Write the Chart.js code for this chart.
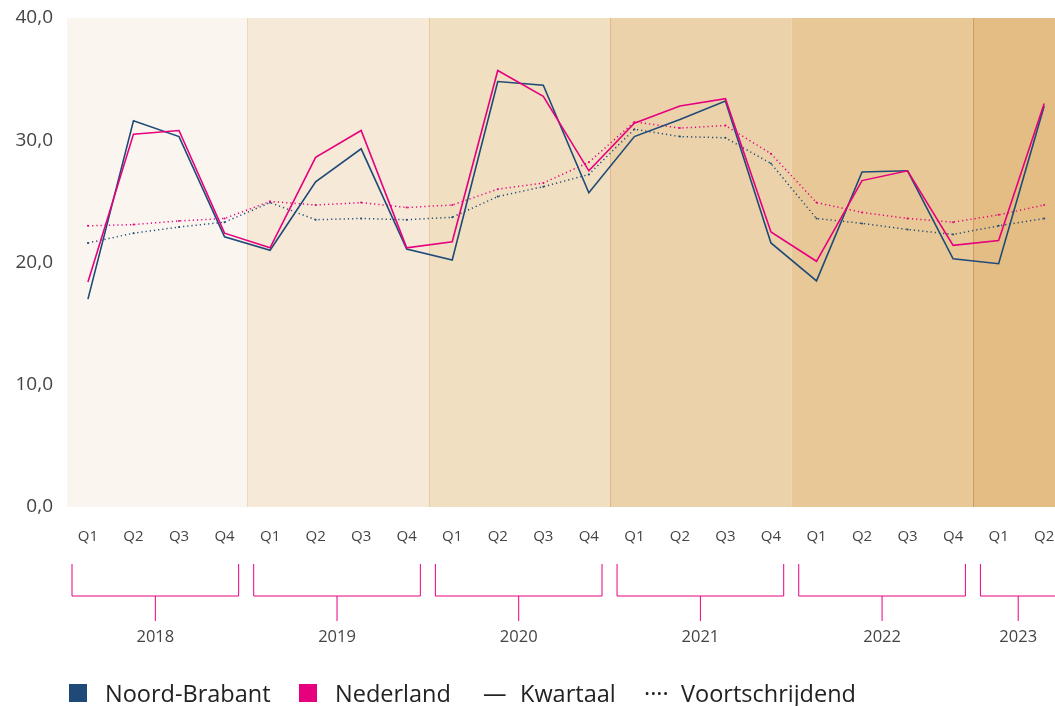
<!DOCTYPE html>
<html lang="nl">
<head>
<meta charset="utf-8">
<title>Noord-Brabant vs Nederland</title>
<script src="https://cdn.jsdelivr.net/npm/chart.js@4/dist/chart.umd.min.js"></script>
<style>
    html, body { margin: 0; padding: 0; background: #fff; overflow: hidden; }
    .wrap { position: relative; width: 1055px; height: 706px; }
    #chart { position: absolute; left: 0; top: 0; }
    .legend span { position: absolute; font-family: 'Open Sans', sans-serif; font-size: 23.5px; line-height: 23px; color: #222; white-space: nowrap; }
    .legend .sq { width: 18px; height: 18px; }
</style>
</head>
<body>
<div class="wrap">
    <canvas id="chart" width="1055" height="706"></canvas>
    <div class="legend">
        <span class="sq" style="left:69px; top:684px; background:#1f4a78;"></span>
        <span style="left:105px; top:682px;">Noord-Brabant</span>
        <span class="sq" style="left:299px; top:684px; background:#e6007e;"></span>
        <span style="left:335px; top:682px;">Nederland</span>
        <span style="left:483px; top:682px;">—</span>
        <span style="left:520px; top:682px;">Kwartaal</span>
        <span style="left:644px; top:682px;">····</span>
        <span style="left:681px; top:682px;">Voortschrijdend</span>
    </div>
</div>
<script>
// Labels
const quarters = ['Q1', 'Q2', 'Q3', 'Q4', 'Q1', 'Q2', 'Q3', 'Q4', 'Q1', 'Q2', 'Q3', 'Q4',
                  'Q1', 'Q2', 'Q3', 'Q4', 'Q1', 'Q2', 'Q3', 'Q4', 'Q1', 'Q2'];
const years = ['2018', '2019', '2020', '2021', '2022', '2023'];
const yTicks = [0, 10, 20, 30, 40];

// Kwartaalcijfers
const nbKwartaal = [17.0, 31.6, 30.3, 22.1, 21.0, 26.6, 29.3, 21.1, 20.2, 34.8, 34.5, 25.7,
                    30.3, 31.7, 33.2, 21.6, 18.5, 27.4, 27.5, 20.3, 19.9, 32.8];
const nlKwartaal = [18.4, 30.5, 30.8, 22.4, 21.2, 28.6, 30.8, 21.2, 21.7, 35.7, 33.6, 27.5,
                    31.4, 32.8, 33.4, 22.5, 20.1, 26.7, 27.5, 21.4, 21.8, 33.0];

// Voortschrijdend gemiddelde
const nbVoort = [21.6, 22.4, 22.9, 23.3, 24.9, 23.5, 23.6, 23.5, 23.7, 25.4, 26.2, 27.2,
                 30.9, 30.3, 30.2, 28.1, 23.6, 23.2, 22.7, 22.3, 23.0, 23.6];
const nlVoort = [23.0, 23.1, 23.4, 23.6, 25.0, 24.7, 24.9, 24.5, 24.7, 26.0, 26.5, 28.2,
                 31.5, 31.0, 31.2, 28.9, 24.9, 24.1, 23.6, 23.3, 23.9, 24.7];

const BLUE = '#1f4a78';
const PINK = '#e6007e';

const bandColors = ['#faf6ef', '#f6e9d7', '#f1dfc1', '#ebd2aa', '#e8c896', '#e3bd83'];
const dividerColors = ['#efd9bb', '#e6cba3', '#dfb98a', 'rgba(0,0,0,0)', '#cf9b5c'];

const toPoints = arr => arr.map((v, i) => ({ x: i, y: v }));

// grens tussen jaar k-1 en jaar k, in schaal-eenheden
const bandEdge = k => k * 3.985 - 0.49;

// Jaarbanden achter de lijnen (lopen door tot de rand van het canvas)
const bandsPlugin = {
    id: 'bands',
    beforeDatasetsDraw(chart) {
        const { ctx, chartArea: a, scales: { x } } = chart;
        const edge = chart.width;
        ctx.save();
        years.forEach((yr, k) => {
            const l = Math.max(a.left, x.getPixelForValue(bandEdge(k)));
            const r = Math.min(edge, x.getPixelForValue(bandEdge(k + 1)));
            if (r <= l) return;
            ctx.fillStyle = bandColors[k];
            ctx.fillRect(l, a.top, r - l, a.bottom - a.top);
        });
        years.forEach((yr, k) => {
            if (k === 0) return;
            const px = Math.round(x.getPixelForValue(bandEdge(k))) + 0.5;
            ctx.strokeStyle = dividerColors[k - 1];
            ctx.lineWidth = 1;
            ctx.beginPath();
            ctx.moveTo(px, a.top);
            ctx.lineTo(px, a.bottom);
            ctx.stroke();
        });
        ctx.restore();
    }
};

// Jaarhaken onder de kwartalen
const bracketPlugin = {
    id: 'brackets',
    afterDraw(chart) {
        const { ctx, chartArea: a, scales: { x } } = chart;
        const yTop = a.bottom + 57;
        const yMid = a.bottom + 89;
        const yTick = a.bottom + 114;
        const yLabel = a.bottom + 130;
        ctx.save();
        ctx.strokeStyle = PINK;
        ctx.lineWidth = 1;
        ctx.font = '16.5px "Open Sans"';
        ctx.fillStyle = '#444';
        ctx.textAlign = 'center';
        ctx.textBaseline = 'middle';
        years.forEach((yr, k) => {
            const n = Math.min(4, quarters.length - k * 4);
            const start = -0.35 + k * 3.99;
            const end = start + (n - 1) + 0.66;
            const l = x.getPixelForValue(start);
            const r = x.getPixelForValue(end);
            const c = (l + r) / 2;
            ctx.beginPath();
            ctx.moveTo(l, yTop);
            ctx.lineTo(l, yMid);
            ctx.lineTo(r, yMid);
            ctx.lineTo(r, yTop);
            ctx.moveTo(c, yMid);
            ctx.lineTo(c, yTick);
            ctx.stroke();
            ctx.fillText(yr, c, yLabel);
        });
        ctx.restore();
    }
};

document.addEventListener('DOMContentLoaded', () => {
    const ctx = document.getElementById('chart').getContext('2d');

    const solid = (label, data, color) => ({
        label, data: toPoints(data),
        borderColor: color, backgroundColor: color,
        borderWidth: 1.6, pointRadius: 0, tension: 0
    });
    const dotted = (label, data, color) => ({
        label, data: toPoints(data),
        borderColor: color, backgroundColor: color,
        borderWidth: 1.5, borderDash: [1.2, 3], pointRadius: 1, pointBorderWidth: 0, tension: 0
    });

    new Chart(ctx, {
        type: 'line',
        data: {
            datasets: [
                solid('Nederland kwartaal', nlKwartaal, PINK),
                solid('Noord-Brabant kwartaal', nbKwartaal, BLUE),
                dotted('Nederland voortschrijdend', nlVoort, PINK),
                dotted('Noord-Brabant voortschrijdend', nbVoort, BLUE)
            ]
        },
        options: {
            responsive: false,
            animation: false,
            devicePixelRatio: 1,
            layout: { padding: { top: 18, left: 0, right: 0, bottom: 0 } },
            plugins: {
                legend: { display: false },
                tooltip: { enabled: false }
            },
            scales: {
                x: {
                    type: 'linear',
                    min: -0.46,
                    max: 21.15,
                    grid: { display: false },
                    border: { display: false },
                    ticks: {
                        stepSize: 1,
                        includeBounds: false,
                        autoSkip: false,
                        maxRotation: 0,
                        padding: 13,
                        color: '#444',
                        font: { family: 'Open Sans', size: 15 },
                        callback: v => quarters[v] ?? ''
                    },
                    afterFit: scale => {
                        scale.height = 199;
                        scale.paddingLeft = 0;
                        scale.paddingRight = 0;
                    }
                },
                y: {
                    min: yTicks[0],
                    max: yTicks[yTicks.length - 1],
                    grid: { display: false, drawTicks: false },
                    border: { display: false },
                    ticks: {
                        stepSize: 10,
                        padding: 14,
                        color: '#444',
                        font: { family: 'Open Sans', size: 19 },
                        callback: v => v.toFixed(1).replace('.', ',')
                    },
                    afterFit: scale => {
                        scale.width = 67;
                        scale.paddingTop = 0;
                        scale.paddingBottom = 0;
                    }
                }
            }
        },
        plugins: [bandsPlugin, bracketPlugin]
    });
});
</script>
</body>
</html>
